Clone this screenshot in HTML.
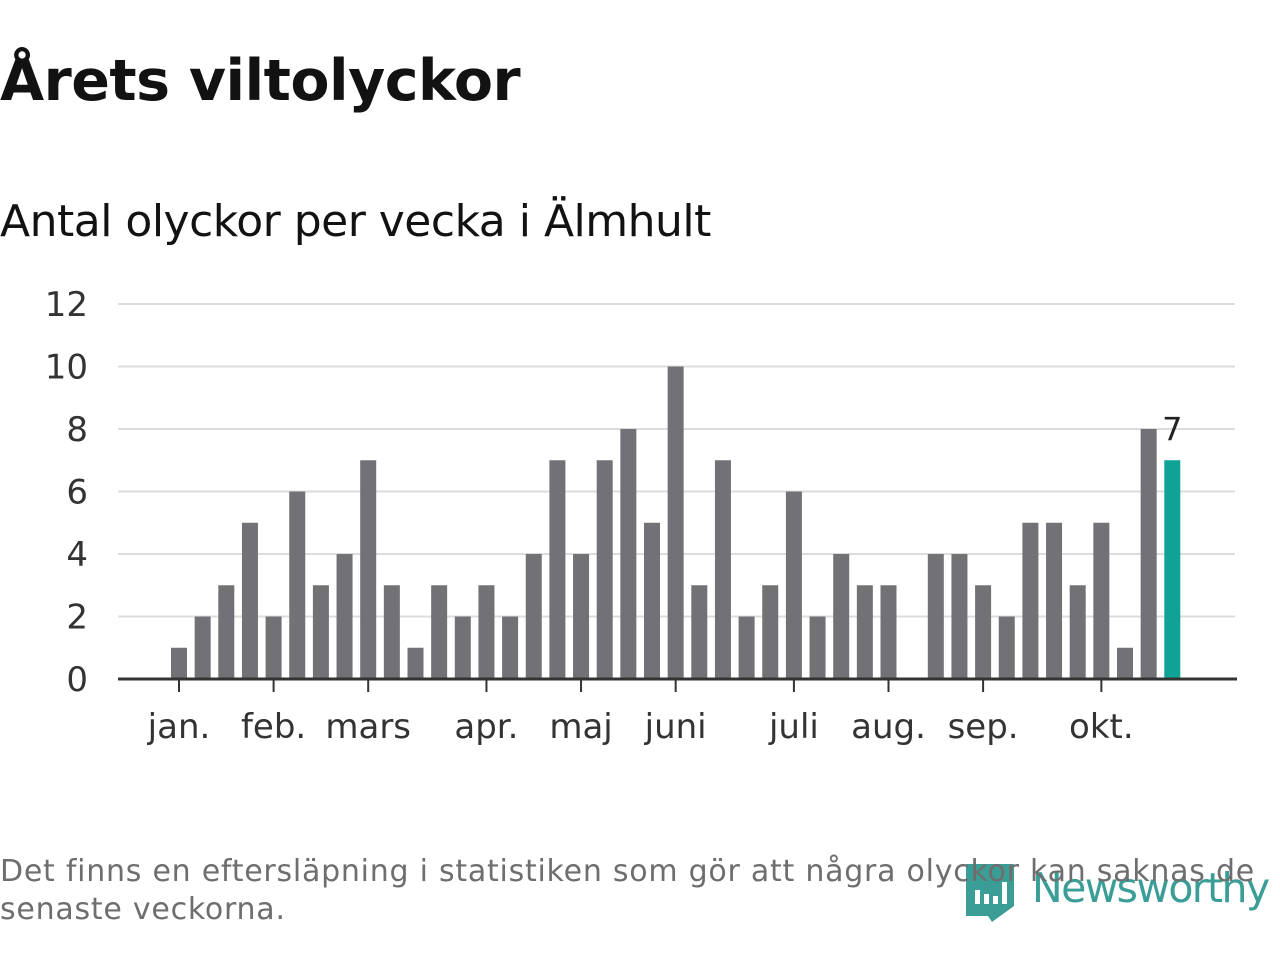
<!DOCTYPE html>
<html><head><meta charset="utf-8"><style>
body{margin:0;width:1280px;height:960px;background:#fff;overflow:hidden;font-family:"DejaVu Sans","Liberation Sans",sans-serif;position:relative}
.t{position:absolute;white-space:nowrap}
</style></head><body>
<div class="t" style="left:0;top:48px;font-size:57px;font-weight:bold;color:#121212;letter-spacing:-0.5px">Årets viltolyckor</div>
<div class="t" style="left:0;top:196px;font-size:44px;color:#121212;letter-spacing:-0.5px">Antal olyckor per vecka i Älmhult</div>
<svg id="chart" width="1280" height="800" style="position:absolute;left:0;top:0"></svg>
<svg width="60" height="70" style="position:absolute;left:962px;top:860px">
<path d="M4 4 H52 V46 L30 62 L26 56 H4 Z" fill="#3a9e96"/>
<rect x="13" y="30" width="5" height="14" fill="#fff"/><rect x="22" y="34" width="5" height="10" fill="#fff"/><rect x="31" y="36" width="5" height="8" fill="#fff"/><rect x="40" y="22" width="5" height="22" fill="#fff"/>
</svg>
<div class="t" style="left:1032px;top:864px;font-size:41px;color:#3a9e96;letter-spacing:-1.6px">Newsworthy</div>
<div class="t" style="left:0;top:853px;font-size:30px;line-height:38px;color:#6e6e6e;letter-spacing:0.75px">Det finns en eftersläpning i statistiken som gör att några olyckor kan saknas de<br>senaste veckorna.</div>
<script>
const values=[1,2,3,5,2,6,3,4,7,3,1,3,2,3,2,4,7,4,7,8,5,10,3,7,2,3,6,2,4,3,3,0,4,4,3,2,5,5,3,5,1,8,7];
const monthLabels=["jan.","feb.","mars","apr.","maj","juni","juli","aug.","sep.","okt."];
const monthIdx=[0,4,8,13,17,21,26,30,34,39];
const yTicks=[0,2,4,6,8,10,12];
const svg=document.getElementById('chart');const NS='http://www.w3.org/2000/svg';
const x0=179,step=23.65,bw=16,yBase=679,unit=31.25;
const X=i=>x0+i*step, Y=v=>yBase-v*unit;
function mk(t,a){const e=document.createElementNS(NS,t);for(const k in a)e.setAttribute(k,a[k]);svg.appendChild(e);return e;}
yTicks.forEach(v=>{
 if(v>0){const l=mk('line',{x1:118,x2:1235,y1:Y(v),y2:Y(v),stroke:'#dcdcdc','stroke-width':2});
 
 }
 const t=mk('text',{x:88,y:Y(v)+12,'text-anchor':'end','font-size':34,fill:'#333'});t.textContent=v;
 
 
});
values.forEach((v,i)=>{
 const last=i===values.length-1;
 const r=mk('rect',{x:X(i)-bw/2,y:Y(v),width:bw,height:v*unit,fill:last?'#0fa396':'#727176'});
 
 
 if(last){const t=mk('text',{x:X(i),y:Y(v)-20,'text-anchor':'middle','font-size':32,fill:'#222'});t.textContent=v;
 
 }
});
const ax=mk('line',{x1:118,x2:1237,y1:yBase,y2:yBase,stroke:'#333','stroke-width':3});


monthIdx.forEach((i,k)=>{
 const tk=mk('line',{x1:X(i),x2:X(i),y1:yBase,y2:yBase+13,stroke:'#333','stroke-width':2});
 
 
 const t=mk('text',{x:X(i),y:yBase+59,'text-anchor':'middle','font-size':34,fill:'#333'});t.textContent=monthLabels[k];
 
 
});
</script>
</body></html>
